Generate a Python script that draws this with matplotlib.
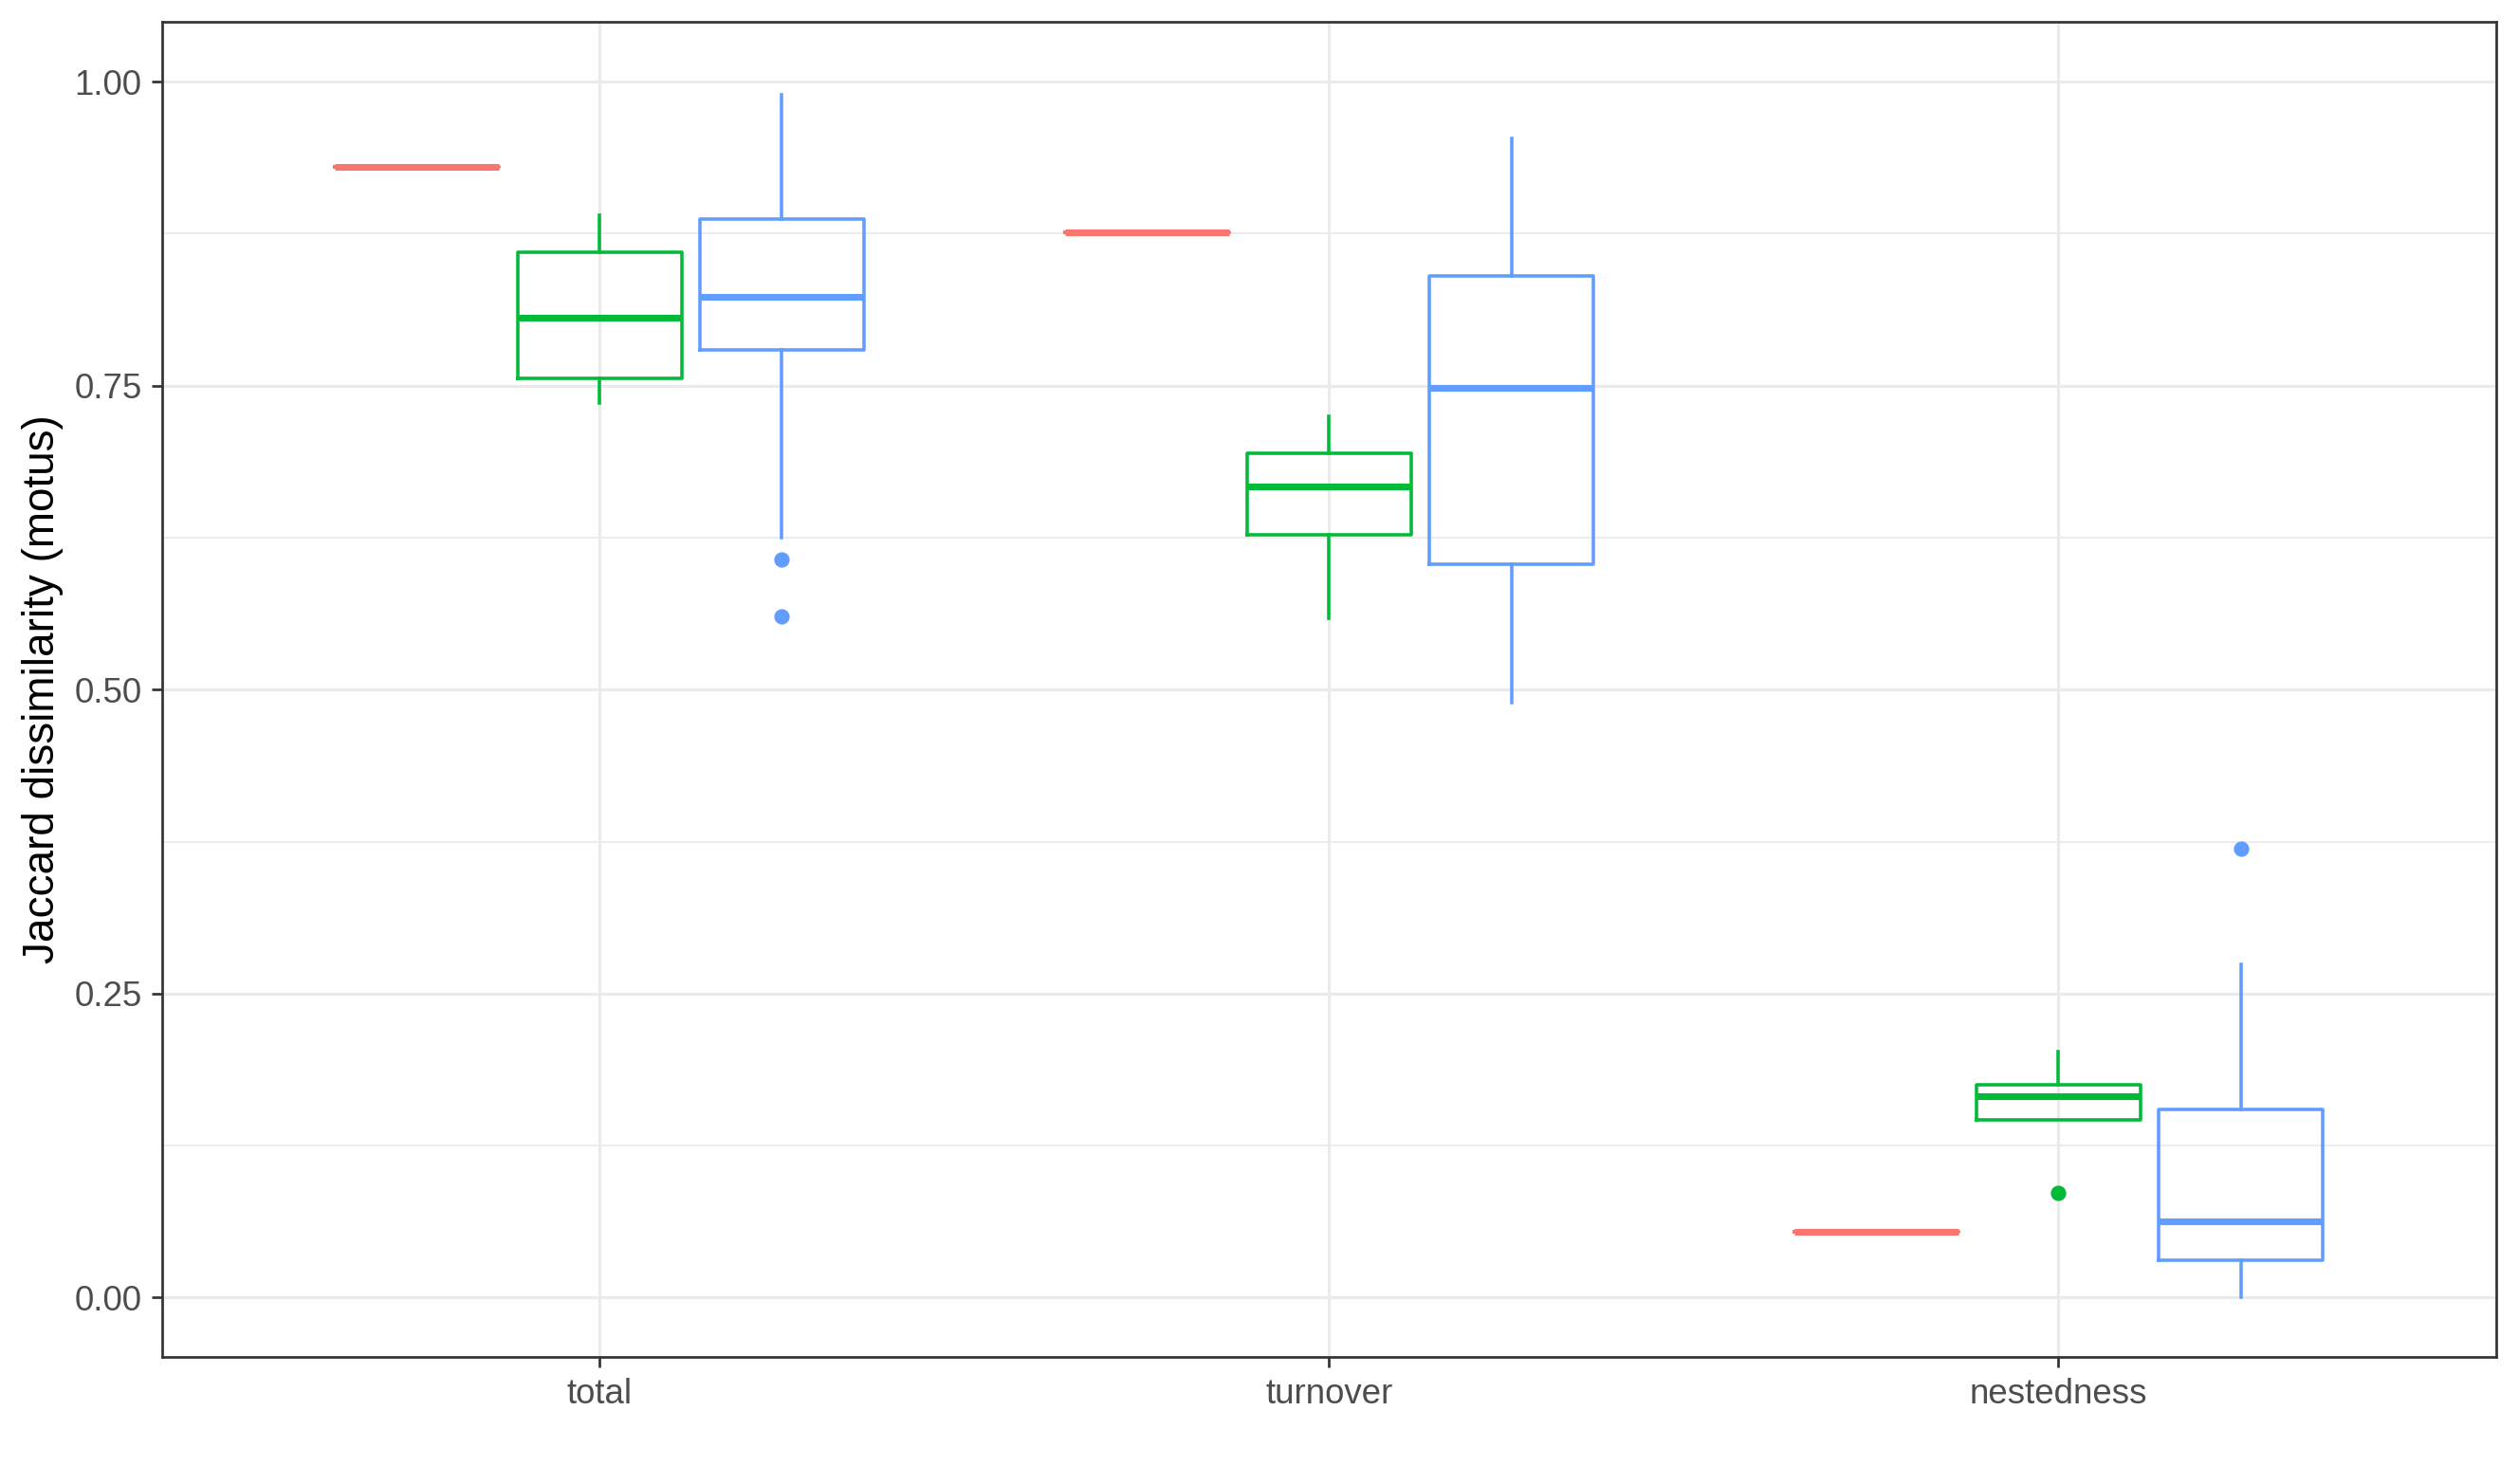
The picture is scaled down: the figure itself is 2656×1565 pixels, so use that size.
import matplotlib
matplotlib.use("Agg")
import matplotlib.pyplot as plt
import numpy as np

# components of Jaccard dissimilarity, one box per group and component
CATEGORIES = ["total", "turnover", "nestedness"]
GROUPS = ["ref", "green", "blue"]
COLORS = ["#F8766D", "#00BA38", "#619CFF"]

# single-value group (drawn as a flat box)
RED_VALUES = [0.930, 0.876, 0.054]

GREEN_WHISLO = [0.736, 0.559, 0.146]
GREEN_Q1 = [0.756, 0.627, 0.146]
GREEN_MED = [0.806, 0.667, 0.166]
GREEN_Q3 = [0.860, 0.694, 0.175]
GREEN_WHISHI = [0.890, 0.725, 0.202]
GREEN_FLIERS = [[], [], [0.086]]

BLUE_WHISLO = [0.625, 0.489, 0.000]
BLUE_Q1 = [0.779, 0.603, 0.031]
BLUE_MED = [0.823, 0.748, 0.063]
BLUE_Q3 = [0.887, 0.840, 0.155]
BLUE_WHISHI = [0.989, 0.953, 0.274]
BLUE_FLIERS = [[0.607, 0.560], [], [0.369]]

Y_TICKS = [0.00, 0.25, 0.50, 0.75, 1.00]
Y_MINOR = [0.125, 0.375, 0.625, 0.875]
Y_LABEL = "Jaccard dissimilarity (motus)"


def make_stats(whislo, q1, med, q3, whishi, fliers):
    return [
        {"whislo": a, "q1": b, "med": c, "q3": d, "whishi": e, "fliers": f}
        for a, b, c, d, e, f in zip(whislo, q1, med, q3, whishi, fliers)
    ]


red_stats = make_stats(RED_VALUES, RED_VALUES, RED_VALUES, RED_VALUES, RED_VALUES, [[], [], []])
green_stats = make_stats(GREEN_WHISLO, GREEN_Q1, GREEN_MED, GREEN_Q3, GREEN_WHISHI, GREEN_FLIERS)
blue_stats = make_stats(BLUE_WHISLO, BLUE_Q1, BLUE_MED, BLUE_Q3, BLUE_WHISHI, BLUE_FLIERS)

plt.rcParams["font.family"] = ["Liberation Sans", "DejaVu Sans"]

fig = plt.figure(figsize=(2656 / 300, 1565 / 300), dpi=300)
ax = fig.add_axes([0.06427, 0.08543, 0.99096 - 0.06427, 0.98550 - 0.08543])

base = np.arange(1, len(CATEGORIES) + 1)
offsets = [-0.25, 0.0, 0.25]
box_width = 0.225

for stats, color, off in zip([red_stats, green_stats, blue_stats], COLORS, offsets):
    ax.bxp(
        stats,
        positions=base + off,
        widths=box_width,
        showcaps=False,
        boxprops=dict(color=color, linewidth=0.85),
        whiskerprops=dict(color=color, linewidth=0.85),
        medianprops=dict(color=color, linewidth=1.7, solid_capstyle="butt"),
        flierprops=dict(marker="o", markerfacecolor=color, markeredgewidth=0,
                        markersize=3.9, linestyle="none"),
        manage_ticks=False,
        zorder=3,
    )

ax.set_xlim(0.4, 3.6)
ax.set_ylim(-0.049, 1.0494)

ax.set_xticks(base)
ax.set_xticklabels(CATEGORIES)
ax.set_yticks(Y_TICKS)
ax.set_yticklabels([f"{v:.2f}" for v in Y_TICKS])
ax.set_yticks(Y_MINOR, minor=True)

ax.grid(True, which="major", color="#EBEBEB", linewidth=0.75, zorder=0)
ax.grid(True, which="minor", axis="y", color="#EBEBEB", linewidth=0.45, zorder=0)
ax.set_axisbelow(True)

ax.tick_params(axis="both", which="major", length=2.7, width=0.65, color="#333333",
               labelsize=8.8, labelcolor="#4D4D4D", pad=2.4)
ax.tick_params(axis="y", which="minor", length=0)
for spine in ax.spines.values():
    spine.set_color("#333333")
    spine.set_linewidth(0.65)

ax.set_ylabel(Y_LABEL, fontsize=11, color="black")
ax.yaxis.set_label_coords(-0.042, 0.5)

fig.savefig("out.png", dpi=300, facecolor="white")
